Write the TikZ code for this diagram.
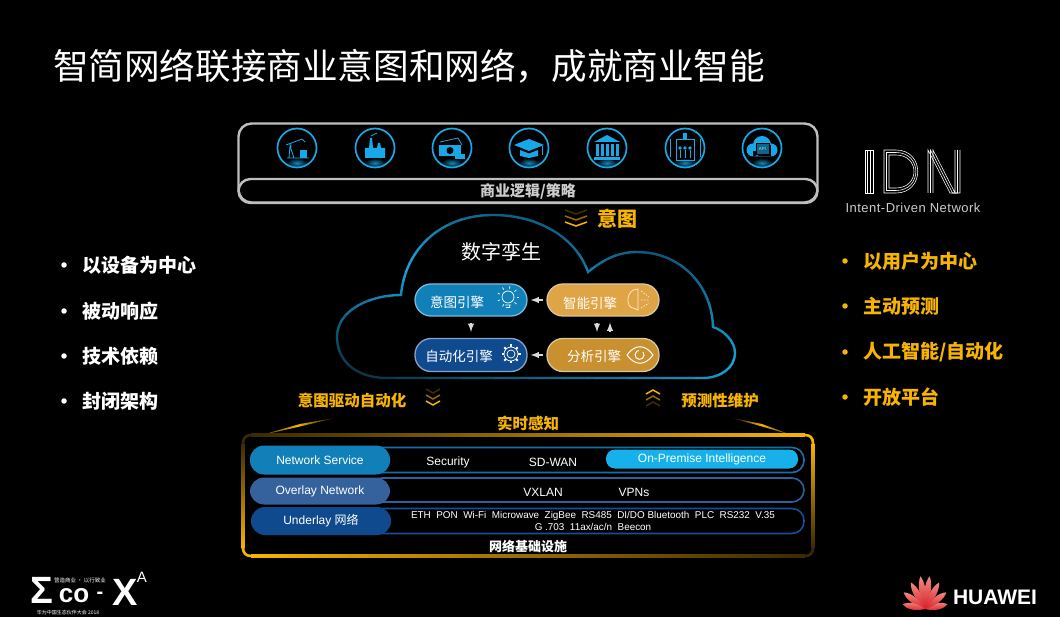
\documentclass[tikz,border=0pt]{standalone}
\usepackage{fontspec}
\setmainfont{Liberation Sans}
\newfontfamily\cjk{Noto Sans CJK SC}
\newcommand{\fs}[1]{\fontsize{#1}{#1}\selectfont}
\definecolor{gold}{HTML}{F7B400}
\definecolor{darkgold}{HTML}{3A2A00}
\definecolor{skyline}{HTML}{1AA2DC}
\definecolor{iconblue}{HTML}{18A8E8}
\definecolor{frameline}{HTML}{BEBEBE}
\definecolor{pillA}{HTML}{1180B8}
\definecolor{pillB}{HTML}{35629C}
\definecolor{pillC}{HTML}{0F4A8E}
\definecolor{lineA}{HTML}{1A6EA6}
\definecolor{lineB}{HTML}{2F5F9C}
\definecolor{lineC}{HTML}{174F96}
\definecolor{smartfill}{HTML}{DFA445}
\definecolor{analysisfill}{HTML}{C8902E}
\definecolor{sandline}{HTML}{D8C8A0}
\definecolor{hwred}{HTML}{D81E28}
\definecolor{hwpink}{HTML}{F08A80}
\begin{document}
\begin{tikzpicture}[x=1pt,y=-1pt,text=white]

\tikzstyle{engine}=[rounded corners=16pt,minimum width=112pt,minimum height=32pt,inner sep=0pt,line width=1.3pt]
\tikzstyle{enginetext}=[font=\cjk\fs{13.5}]
\tikzstyle{flow}=[-latex,line width=1.8pt,color=black!15,shorten >=3pt,shorten <=3pt]
\tikzstyle{head}=[font=\cjk\bfseries\fs{15.5},text=gold]
\tikzstyle{listw}=[anchor=west,font=\cjk\bfseries\fs{19}]
\tikzstyle{listg}=[anchor=west,font=\cjk\bfseries\fs{19},text=gold]
\tikzstyle{bulletw}=[circle,fill=white,inner sep=0pt,minimum size=5.5pt]
\tikzstyle{bulletg}=[circle,fill=gold,inner sep=0pt,minimum size=5.5pt]
\tikzstyle{rowline}=[draw,rounded corners=12pt,line width=1.6pt,inner sep=0pt]
\tikzstyle{rowpill}=[rounded corners=14pt,minimum width=140pt,inner sep=0pt,font=\fs{12}]
\tikzstyle{rowtext}=[font=\fs{12}]
\tikzstyle{chevron}=[line width=1.5pt]
\tikzstyle{glyph}=[iconblue,line width=0.8pt]

\useasboundingbox (0,0) rectangle (1060,617);
\fill[black] (0,0) rectangle (1060,617);

\node[font=\cjk\fs{35.6}](title) at (409,66){智简网络联接商业意图和网络\char"FF0C 成就商业智能};

% business logic frame
\node[draw=frameline,line width=2.4pt,rounded corners=13pt,minimum width=579pt,minimum height=79pt,inner sep=0pt](logicbox) at (528,163){};
\node[draw=frameline,line width=2.4pt,rounded corners=12pt,minimum width=579pt,minimum height=24pt,inner sep=0pt,font=\cjk\bfseries\fs{15},text=black!20](logicbar) at (528,191){商业逻辑/策略};

\foreach \i/\x in {1/297,2/375,3/452,4/529,5/607,6/685,7/762}{
	\shade[inner color=iconblue!80!black,outer color=black] (\x,163) ellipse (11 and 5);
	\node[circle,draw=iconblue,line width=1.7pt,minimum size=39pt,inner sep=0pt](icon\i) at (\x,148){};
}

% pump
\begin{scope}[shift={(icon1.center)}]
\draw[glyph] (-10,10)--(12,10) (-8,10)--(-7,-2)--(-3,10) (-11,-3)--(5,-9)--(8,-6) (-6,-4)--(-6,2);
\fill[iconblue] (3,2) rectangle (10,10);
\end{scope}
% factory
\begin{scope}[shift={(icon2.center)}]
\fill[iconblue] (-10,10)--(-10,0)--(-6,0)--(-5,-10)--(-3,-10)--(-2,0)--(2,0)--(3,-5)--(5,-5)--(6,0)--(10,0)--(10,10)--cycle;
\draw[glyph] (-4,-12)--(2,-15);
\end{scope}
% cash
\begin{scope}[shift={(icon3.center)}]
\draw[glyph] (-12,-6)--(6,-10)--(10,-3);
\fill[iconblue] (-13,-3) rectangle (9,8);
\fill[black] (-2,2.5) circle (3.5);
\fill[iconblue] (3,6) rectangle (13,11);
\end{scope}
% cap
\begin{scope}[shift={(icon4.center)}]
\fill[iconblue] (-15,-3)--(0,-9)--(15,-3)--(0,3)--cycle;
\fill[iconblue] (-9,2)--(0,5.500)--(9,2)--(9,8)--(0,10)--(-9,8)--cycle;
\draw[glyph] (13,-2)--(13,7);
\end{scope}
% bank
\begin{scope}[shift={(icon5.center)}]
\fill[iconblue] (-13,-6)--(0,-13)--(13,-6)--cycle;
\foreach \c in {-10,-5,0,5,10}{\fill[iconblue] (\c-1.500,-4) rectangle (\c+1.500,8);}
\fill[iconblue] (-13,9) rectangle (13,12);
\end{scope}
% lift
\begin{scope}[shift={(icon6.center)}]
\draw[glyph] (-9,-9) rectangle (9,12) (-15,-9)--(-15,9) (15,-9)--(15,9);
\fill[iconblue] (-2,-15) rectangle (2,-9);
\draw[glyph] (-5,10)--(-5,2) (0,10)--(0,2) (5,10)--(5,2);
\fill[iconblue] (-5,0) circle (1.8) (0,0) circle (1.8) (5,0) circle (1.8);
\end{scope}
% cloud api
\begin{scope}[shift={(icon7.center)}]
\fill[iconblue] (-9,2) circle (6.500) (0,-3) circle (9) (9,2) circle (6.500) (-9,3) rectangle (9,8.500);
\draw[black,line width=0.7pt,fill=iconblue!60!black] (-6,-5) rectangle (7,6);
\draw[black,line width=0.7pt] (8.500,-3)--(8.500,7.500)--(-4,7.500);
\node[font=\fs{4.5},text=iconblue!40!white](apitext) at (0.500,0.500){API};
\end{scope}

% idn mark
\foreach \d in {0,2.500,5}{
	\draw[white,line width=0.55pt] (865+\d,150)--(865+\d,193);
	\draw[white,line width=0.55pt] (884+\d,150+\d)--(896,150+\d) .. controls (925-\d,150+\d) and (925-\d,193-\d) .. (896,193-\d)--(884+\d,193-\d)--cycle;
	\draw[white,line width=0.55pt] (928+\d,193)--(928+\d,150)--(950+\d,193)--(960-\d,193)--(960-\d,150);
}
\draw[white,line width=0.55pt] (865,150) rectangle (873,193);
\node[font=\fs{13}\addfontfeatures{LetterSpace=3.7},text=black!20](idnname) at (913,208){Intent-Driven Network};

\foreach \d/\c in {0/25,6/60,12/100}{
	\draw[chevron,color=gold!\c!black] (565,210+\d)--(576,214+\d)--(587,210+\d);
}
\node[font=\cjk\bfseries\fs{20},text=gold](intentword) at (617,219){意图};

% cloud
\def\cloudpath{(588,272) .. controls (605,258) and (620,252) .. (637,252) .. controls (680,252) and (712,285) .. (713,327) .. controls (725,331) and (735,342) .. (735,353) .. controls (735,368) and (720,378) .. (703,378) -- (387,378) .. controls (355,378) and (337,360) .. (337,337) .. controls (337,310) and (370,295) .. (401,295) .. controls (405,250) and (440,215) .. (493,215) .. controls (535,215) and (575,235) .. (588,272) -- cycle}
\foreach \c in {40,50,...,290}{
	\pgfmathsetmacro{\shadep}{\c<140 ? 100-(140-\c)*0.5 : 100-(\c-140)*0.55}
	\begin{scope}
	\clip (300,300*0.3+\c) -- (760,760*0.3+\c) -- (760,760*0.3+\c+10.5) -- (300,300*0.3+\c+10.5) -- cycle;
	\draw[color=skyline!\shadep!black,line width=2.4pt] \cloudpath;
	\end{scope}
}
\node[font=\cjk\fs{20}](twin) at (501,252){数字孪生};

\node[engine,fill=pillA,draw=pillA!55!white](intent) at (471,300){};
\node[engine,fill=smartfill,draw=sandline](smart) at (603,300){};
\node[engine,fill=pillC,draw=pillC!50!white,minimum height=33pt](auto) at (471,355){};
\node[engine,fill=analysisfill,draw=sandline,minimum height=33pt](analysis) at (603,355){};

\node[enginetext](intenttext) at (457,302){意图引擎};
\node[enginetext](smarttext) at (590,303){智能引擎};
\node[enginetext](autotext) at (459,356){自动化引擎};
\node[enginetext](analysistext) at (594,356){分析引擎};

% engine glyphs
\begin{scope}[shift={(508,297)},white,line width=0.7pt]
\draw (0,0) circle (6) (-3,8)--(3,8) (-2,10.500)--(2,10.500);
\foreach \a in {0,40,...,320}{\draw (\a:8.500)--(\a:11);}
\end{scope}
\begin{scope}[shift={(511,354)},white,line width=0.7pt]
\draw (0,0) circle (4) (0,0) circle (7);
\foreach \a in {0,45,...,315}{\draw[line width=2pt] (\a:7)--(\a:9.500);}
\fill[pillC] (0,0) circle (6);
\draw (0,0) circle (4);
\end{scope}
\begin{scope}[shift={(638,300)},white!85!orange,line width=0.7pt]
\draw (0,-11) .. controls (-13,-11) and (-12,8) .. (-5,8) -- (0,10) -- cycle;
\draw[dash pattern=on 1.500pt off 1.500pt] (3,-9) -- (11,-3) (3,0) -- (11,0) (3,8) -- (11,3);
\end{scope}
\begin{scope}[shift={(640,355)},white,line width=1pt]
\draw (-13,0) .. controls (-5,-11) and (5,-11) .. (13,0) .. controls (5,11) and (-5,11) .. (-13,0) -- cycle;
\draw (3,-3) arc (-40:260:4.500);
\end{scope}

\path[flow](smart)edge(intent)
	(analysis)edge(auto);
\path[flow,shorten >=6pt,shorten <=6pt](intent)edge(auto)
	([xshift=-6pt]smart.south)edge([xshift=-6pt]analysis.north)
	([xshift=7pt]analysis.north)edge([xshift=7pt]smart.south);

\node[head](drive) at (352,401){意图驱动自动化};
\node[head](predict) at (720,401){预测性维护};
\node[head](sense) at (528,423){实时感知};

\foreach \d/\c in {0/25,6/60,12/100}{
	\draw[chevron,color=gold!\c!black] (426,389+\d)--(433,393+\d)--(440,389+\d);
}
\foreach \d/\c in {0/100,6/60,12/25}{
	\draw[chevron,color=gold!\c!black] (646,394+\d)--(653,390+\d)--(660,394+\d);
}

\shade[left color=darkgold,right color=black,middle color=gold] (258,436)--(300,424)--(337,417.500)--(300,426.500)--cycle;
\shade[left color=black,right color=darkgold,middle color=gold] (730,417.500)--(762,424)--(793,435.500)--(762,426.500)--cycle;

% gold frame
\shade[left color=darkgold,right color=gold] (251,433.700) rectangle (805,436.300);
\shade[top color=gold,bottom color=darkgold] (811.700,443) rectangle (814.300,548);
\shade[top color=darkgold,bottom color=gold] (241.700,443) rectangle (244.300,548);
\shade[left color=gold,right color=darkgold,middle color=gold!60!black] (251,554.700) rectangle (805,557.300);
\draw[gold,line width=2.6pt] (805,435) .. controls (810,435) and (813,438) .. (813,443);
\draw[gold,line width=2.6pt] (243,548) .. controls (243,553) and (246,556) .. (251,556);
\draw[darkgold,line width=2.6pt] (243,443) .. controls (243,438) and (246,435) .. (251,435);
\draw[darkgold,line width=2.6pt] (813,548) .. controls (813,553) and (810,556) .. (805,556);

\node[rowline,draw=lineA,minimum width=434pt,minimum height=25pt](rowservice) at (587,460){};
\node[rowline,draw=lineB,minimum width=434pt,minimum height=24pt](rowoverlay) at (587,490){};
\node[rowline,draw=lineC,minimum width=434pt,minimum height=25pt](rowunderlay) at (587,521){};

\node[rowpill,fill=pillA,minimum height=29pt](service) at (320,460){\raisebox{-2pt}{Network Service}};
\node[rowpill,fill=pillB,minimum height=27pt](overlay) at (320,491){\raisebox{-2pt}{Overlay Network}};
\node[rowpill,fill=pillC,minimum height=28pt](underlay) at (321,521){\raisebox{-2pt}{Underlay {\cjk 网络}}};

\node[rowtext](security) at (448,462){Security};
\node[rowtext](sdwan) at (553,462){SD-WAN};
\node[rounded corners=9pt,fill=iconblue!90!cyan,minimum width=192pt,minimum height=19pt,inner sep=0pt,font=\fs{12}](premise) at (702,459){On-Premise Intelligence};
\node[rowtext](vxlan) at (543,492){VXLAN};
\node[rowtext](vpns) at (634,492){VPNs};
\node[font=\fs{9.9},align=center,inner sep=0pt](access) at (593,521){ETH\ \ PON\ \ Wi-Fi\ \ Microwave\ \ ZigBee\ \ RS485\ \ DI/DO Bluetooth\ \ PLC\ \ RS232\ \ V.35\\[2.5pt]G .703\ \ 11ax/ac/n\ \ Beecon};
\node[font=\cjk\bfseries\fs{13}](infra) at (528,546){网络基础设施};

% lists
\foreach \y/\t/\n in {265/以设备为中心/a,311/被动响应/b,356/技术依赖/c,401/封闭架构/d}{
	\node[bulletw](bulletw\n) at (64,\y){};
	\node[listw](leftitem\n) at (79,\y){\t};
}
\foreach \y/\t/\n in {261/以用户为中心/a,306/主动预测/b,352/人工智能\mbox{/}自动化/c,397/开放平台/d}{
	\node[bulletg](bulletg\n) at (845,\y){};
	\node[listg](rightitem\n) at (860,\y){\t};
}

% eco logo
\node[font=\bfseries\fs{38},inner sep=0pt](logosigma) at (42,590){Σ};
\node[font=\bfseries\fs{26},inner sep=0pt](logoco) at (74,596){co};
\node[font=\bfseries\fs{20},inner sep=0pt](logodash) at (100,595){-};
\node[font=\bfseries\fs{38},inner sep=0pt](logox) at (125,592){X};
\node[font=\fs{15},inner sep=0pt](logoa) at (142,577){A};
\node[font=\cjk\fs{5.500},inner sep=0pt](logotop) at (80,580){营造商业 · 以行致业};
\node[font=\cjk\fs{5},inner sep=0pt](logobottom) at (68,613){华为中国生态伙伴大会 2018};

% huawei logo
\foreach \a/\r in {-78/23,-52/27,-28/30,-8/33,8/33,28/30,52/27,78/23}{
	\shade[top color=hwpink,bottom color=hwred,shift={(925,609)},rotate=\a]
		(0,0) .. controls (-4.500,-0.4*\r) and (-4,-0.8*\r) .. (0,-\r) .. controls (4,-0.8*\r) and (4.500,-0.4*\r) .. (0,0) -- cycle;
}
\node[font=\bfseries\fs{21}](huawei) at (995,597){HUAWEI};

\end{tikzpicture}
\end{document}
